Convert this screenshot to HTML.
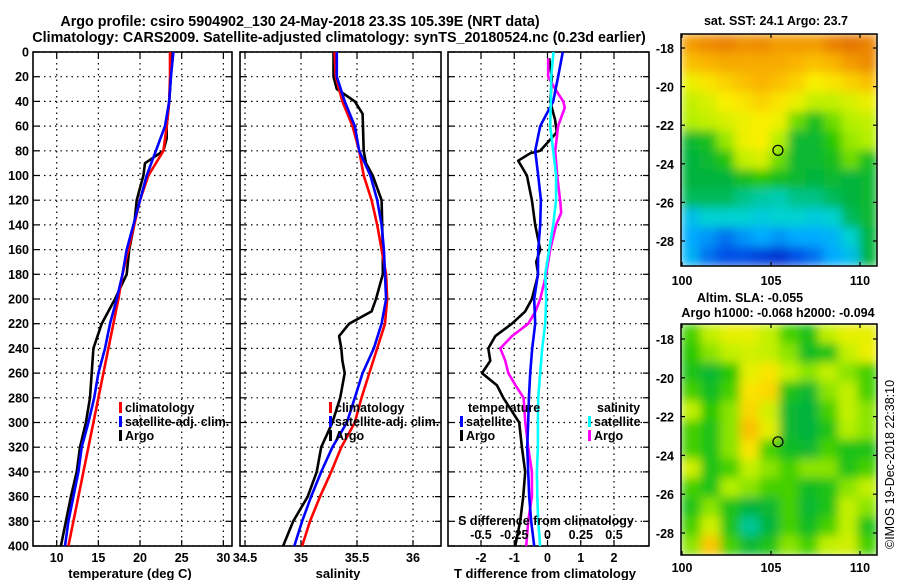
<!DOCTYPE html>
<html><head><meta charset="utf-8"><style>
html,body{margin:0;padding:0;background:#fff;}
svg text{font-family:"Liberation Sans",Arial,sans-serif;font-weight:bold;fill:#000;}
</style></head><body>
<svg id="fig" width="900" height="580" viewBox="0 0 900 580" xmlns="http://www.w3.org/2000/svg">
<defs>
<filter id="smooth" x="0" y="0" width="1" height="1" filterUnits="objectBoundingBox"><feGaussianBlur stdDeviation="5" edgeMode="duplicate"/></filter>
<clipPath id="clipTop"><rect x="681" y="34" width="196" height="232"/></clipPath>
<clipPath id="clipBot"><rect x="681" y="324" width="196" height="231"/></clipPath>
</defs>
<text x="300" y="26" font-size="14.3" text-anchor="middle">Argo profile: csiro 5904902_130 24-May-2018 23.3S 105.39E (NRT data)</text>
<text x="339" y="42" font-size="14.3" text-anchor="middle">Climatology: CARS2009. Satellite-adjusted climatology: synTS_20180524.nc (0.23d earlier)</text>
<g id="p1"></g>
<g id="p2"></g>
<g id="p3"></g>
<g id="m1"></g>
<g id="m2"></g>
<text x="776" y="25" font-size="12.5" text-anchor="middle">sat. SST: 24.1 Argo: 23.7</text>
<text x="750" y="302" font-size="12.5" text-anchor="middle">Altim. SLA: -0.055</text>
<text x="778" y="317" font-size="12.5" text-anchor="middle">Argo h1000: -0.068 h2000: -0.094</text>
<text transform="translate(894,549) rotate(-90)" font-size="12.5" style="font-weight:normal">©IMOS 19-Dec-2018 22:38:10</text>
</svg>
<script>
// ---------- data ----------
const depthGrid = [0,20,40,60,80,100,120,140,160,180,200,220,240,260,280,300,320,340,360,380,400];
const tempClim = [23.6,23.6,23.5,23.2,22.8,21.0,20.0,19.3,18.6,17.9,17.4,16.8,16.2,15.6,15.0,14.4,13.8,13.2,12.6,12.0,11.4];
const tempSat = [24.0,23.7,23.5,23.0,21.9,20.8,20.0,19.2,18.4,17.9,17.2,16.4,15.8,15.0,14.5,13.8,13.0,12.6,12.0,11.4,11.0];
const argoTDepth = [0,20,40,60,70,80,90,100,120,140,160,180,200,220,240,260,280,300,320,340,360,380,400];
const argoTemp = [23.7,23.7,23.5,23.2,23.2,22.8,20.6,20.4,19.6,19.3,18.7,18.4,17.0,15.4,14.4,14.2,14.0,13.5,12.8,12.4,11.7,11.1,10.5];
const salClim = [35.30,35.31,35.37,35.46,35.52,35.56,35.63,35.68,35.72,35.76,35.77,35.75,35.68,35.61,35.54,35.48,35.36,35.27,35.17,35.08,35.01];
const salSat = [35.32,35.32,35.39,35.48,35.52,35.62,35.68,35.72,35.74,35.75,35.76,35.72,35.65,35.55,35.48,35.41,35.28,35.18,35.09,35.01,34.94];
const argoSDepth = [0,20,30,40,50,80,90,100,120,160,180,200,210,220,230,240,250,260,280,300,320,340,360,380,400];
const argoSal = [35.29,35.29,35.32,35.48,35.55,35.56,35.58,35.64,35.72,35.73,35.73,35.67,35.63,35.43,35.34,35.36,35.37,35.39,35.35,35.28,35.18,35.14,35.06,34.93,34.84];
const satTDiff = [0.46,0.32,0.17,-0.22,-0.37,-0.28,-0.2,-0.22,-0.28,-0.29,-0.4,-0.37,-0.46,-0.52,-0.56,-0.58,-0.61,-0.58,-0.55,-0.49,-0.4];
const satSDiff = [0.045,0.028,0.025,0.02,0.043,0.065,0.065,0.043,0.013,-0.017,-0.01,-0.017,-0.04,-0.055,-0.07,-0.072,-0.072,-0.08,-0.077,-0.07,-0.055];
const argoSDiffDepth = [5,20,30,40,45,60,80,100,120,130,140,160,180,200,210,220,230,240,250,260,270,280,300,320,340,360,380,400];
const argoSDiff = [0.005,0.005,0.058,0.118,0.13,0.08,0.058,0.073,0.095,0.103,0.065,0.02,-0.01,-0.055,-0.09,-0.145,-0.267,-0.355,-0.317,-0.295,-0.24,-0.18,-0.167,-0.145,-0.117,-0.117,-0.145,-0.16];
const argoTDiffDepth = [5,20,30,40,55,65,80,82,88,100,120,140,160,170,180,200,210,220,230,240,250,260,270,280,300,320,340,360,380,400];
const argoTDiff = [0.05,0.13,0.11,0.08,0.23,0.28,-0.22,-0.52,-0.88,-0.62,-0.47,-0.37,-0.22,-0.34,-0.28,-0.47,-0.67,-1.07,-1.57,-1.78,-1.72,-1.97,-1.52,-1.33,-0.85,-0.77,-0.67,-0.73,-0.82,-0.97];
const depthTicks = [0,20,40,60,80,100,120,140,160,180,200,220,240,260,280,300,320,340,360,380,400];
const tempTicks = [10,15,20,25,30];
const salTicks = [34.5,35,35.5,36];
const salTickLabels = ["34.5","35","35.5","36"];
const tdiffTicks = [-2,-1,0,1,2];
const sdiffTicks = [-0.5,-0.25,0,0.25,0.5];
const sdiffTickLabels = ["-0.5","-0.25","0","0.25","0.5"];
const mapLonTicks = [100,105,110];
const sstLatTicks = [-18,-20,-22,-24,-26,-28];
const sstGrid = [
[0.85,0.88,0.9,0.87,0.88,0.85,0.85,0.85,0.9,0.92,0.9],
[0.78,0.8,0.82,0.82,0.82,0.82,0.8,0.78,0.8,0.85,0.88],
[0.68,0.72,0.75,0.78,0.8,0.78,0.75,0.7,0.72,0.75,0.78],
[0.62,0.65,0.7,0.72,0.75,0.72,0.68,0.62,0.62,0.65,0.68],
[0.6,0.62,0.65,0.68,0.7,0.68,0.55,0.45,0.55,0.6,0.62],
[0.42,0.45,0.58,0.68,0.7,0.6,0.42,0.42,0.5,0.58,0.6],
[0.4,0.42,0.48,0.62,0.65,0.55,0.42,0.42,0.45,0.55,0.45],
[0.4,0.4,0.4,0.45,0.5,0.45,0.42,0.4,0.42,0.4,0.42],
[0.38,0.38,0.38,0.35,0.33,0.32,0.35,0.35,0.38,0.4,0.42],
[0.25,0.3,0.3,0.3,0.28,0.3,0.3,0.28,0.3,0.38,0.42],
[0.2,0.18,0.15,0.18,0.2,0.18,0.2,0.2,0.22,0.3,0.4],
[0.22,0.15,0.12,0.12,0.1,0.08,0.12,0.15,0.2,0.25,0.4]];
const slaGrid = [
[0.52,0.62,0.67,0.67,0.62,0.52,0.47,0.62,0.67,0.67],
[0.5,0.57,0.62,0.64,0.62,0.57,0.44,0.47,0.62,0.68],
[0.47,0.42,0.5,0.67,0.72,0.62,0.57,0.62,0.57,0.52],
[0.52,0.44,0.52,0.72,0.74,0.47,0.42,0.57,0.62,0.52],
[0.62,0.5,0.57,0.74,0.64,0.42,0.4,0.52,0.62,0.57],
[0.52,0.47,0.57,0.78,0.67,0.42,0.4,0.47,0.6,0.57],
[0.52,0.47,0.57,0.72,0.52,0.44,0.42,0.52,0.47,0.47],
[0.64,0.47,0.52,0.62,0.57,0.52,0.57,0.57,0.47,0.52],
[0.52,0.47,0.6,0.57,0.52,0.52,0.44,0.47,0.57,0.62],
[0.47,0.57,0.47,0.4,0.42,0.52,0.42,0.47,0.62,0.57],
[0.52,0.64,0.47,0.34,0.4,0.52,0.44,0.52,0.62,0.47],
[0.57,0.77,0.52,0.42,0.47,0.57,0.52,0.62,0.64,0.52]];
const argoLon = 105.39, argoLat = -23.3;

// ---------- helpers ----------
const NS="http://www.w3.org/2000/svg";
function mk(tag,attrs,parent){const e=document.createElementNS(NS,tag);for(const k in attrs)e.setAttribute(k,attrs[k]);if(parent)parent.appendChild(e);return e;}
const TOP=52, BOT=546;
const yD = d => TOP + d*(BOT-TOP)/400;
function lin(d0,d1,r0,r1){return v=>r0+(v-d0)*(r1-r0)/(d1-d0);}

function panel(g,x0,x1,xs,ticks,labels,showY){
  depthTicks.forEach(d=>{
    const l=mk('line',{x1:x0,x2:x1,y1:yD(d),y2:yD(d),stroke:'#000','stroke-width':1.2,'stroke-dasharray':'1.5,4'},g);
    
    
    mk('line',{x1:x0,x2:x0+6,y1:yD(d),y2:yD(d),stroke:'#000','stroke-width':1.2},g);
    mk('line',{x1:x1-6,x2:x1,y1:yD(d),y2:yD(d),stroke:'#000','stroke-width':1.2},g);
    if(showY){const t=mk('text',{x:x0-4,y:yD(d)+4.5,'font-size':12.5,'text-anchor':'end'},g);t.textContent=d;
      
      }
  });
  ticks.forEach((v,i)=>{
    const x=xs(v);
    if(x>x0+2&&x<x1-2){const l=mk('line',{x1:x,x2:x,y1:TOP,y2:BOT,stroke:'#000','stroke-width':1.2,'stroke-dasharray':'1.5,4'},g);
      
      }
    mk('line',{x1:x,x2:x,y1:BOT-6,y2:BOT,stroke:'#000','stroke-width':1.2},g);
    mk('line',{x1:x,x2:x,y1:TOP,y2:TOP+6,stroke:'#000','stroke-width':1.2},g);
    const t=mk('text',{x:x,y:562,'font-size':12.5,'text-anchor':'middle'},g);t.textContent=labels[i];
    
    
  });
  const f=mk('rect',{x:x0,y:TOP,width:x1-x0,height:BOT-TOP,fill:'none',stroke:'#000','stroke-width':1.6},g);
  
  
}
function curve(g,xs,vals,depths,color,name){
  const pts=vals.map((v,i)=>xs(v).toFixed(1)+','+yD(depths[i]).toFixed(1)).join(' ');
  const p=mk('polyline',{points:pts,fill:'none',stroke:color,'stroke-width':2.6,'stroke-linejoin':'round'},g);
  
  
}
function legend(g,x,y,color,label,name){
  mk('rect',{x:x,y:y-10,width:3,height:11,fill:color},g);
  const t=mk('text',{x:x+6,y:y,'font-size':12.5},g);t.textContent=label;
  
  
}
function text(g,x,y,s,anchor,name,size){const t=mk('text',{x:x,y:y,'font-size':size||13,'text-anchor':anchor},g);t.textContent=s;
  
  
  return t;}

// ---------- panel 1 ----------
const g1=document.getElementById('p1');
const xT=lin(10,25,56.7,181.7);
panel(g1,33,232,xT,tempTicks,tempTicks.map(String),true);
curve(g1,xT,argoTemp,argoTDepth,'#000','argo-temperature-line');
curve(g1,xT,tempClim,depthGrid,'#ff0000','climatology-temperature-line');
curve(g1,xT,tempSat,depthGrid,'#0000ff','satellite-temperature-line');
legend(g1,119,412,'#ff0000','climatology','legend-climatology');
legend(g1,119,426,'#0000ff','satellite-adj. clim.','legend-satellite-adj');
legend(g1,119,440,'#000','Argo','legend-argo');
text(g1,130,578,'temperature (deg C)','middle','x-axis-title-temperature');

// ---------- panel 2 ----------
const g2=document.getElementById('p2');
const xS=lin(34.5,36,245,413);
panel(g2,240,441,xS,salTicks,salTickLabels,false);
curve(g2,xS,argoSal,argoSDepth,'#000','argo-salinity-line');
curve(g2,xS,salClim,depthGrid,'#ff0000','climatology-salinity-line');
curve(g2,xS,salSat,depthGrid,'#0000ff','satellite-salinity-line');
legend(g2,329,412,'#ff0000','climatology','legend-climatology');
legend(g2,329,426,'#0000ff','satellite-adj. clim.','legend-satellite-adj');
legend(g2,329,440,'#000','Argo','legend-argo');
text(g2,338,578,'salinity','middle','x-axis-title-salinity');

// ---------- panel 3 ----------
const g3=document.getElementById('p3');
const xTD=lin(-2,2,481,614);
const xSD=lin(-0.5,0.5,481,614);
panel(g3,448,649,xTD,tdiffTicks,tdiffTicks.map(String),false);
curve(g3,xTD,argoTDiff,argoTDiffDepth,'#000','argo-temperature-diff-line');
curve(g3,xSD,argoSDiff,argoSDiffDepth,'#ff00ff','argo-salinity-diff-line');
curve(g3,xTD,satTDiff,depthGrid,'#0000ff','satellite-temperature-diff-line');
curve(g3,xSD,satSDiff,depthGrid,'#00ffff','satellite-salinity-diff-line');
text(g3,468,412,'temperature','start','legend-temperature-heading',12.5);
text(g3,597,412,'salinity','start','legend-salinity-heading',12.5);
legend(g3,460,426,'#0000ff','satellite','legend-temp-satellite');
legend(g3,460,440,'#000','Argo','legend-temp-argo');
legend(g3,588,426,'#00ffff','satellite','legend-sal-satellite');
legend(g3,588,440,'#ff00ff','Argo','legend-sal-argo');
text(g3,546,525,'S difference from climatology','middle','s-diff-axis-title',12.5);
sdiffTicks.forEach((v,i)=>{text(g3,xSD(v),539,sdiffTickLabels[i],'middle','s-diff-tick-label',12.5);});
text(g3,545,578,'T difference from climatology','middle','x-axis-title-t-diff');

// ---------- maps ----------
const stops=[[0,0,0,170],[0.12,0,80,230],[0.2,0,170,255],[0.3,0,210,210],[0.4,0,180,60],[0.5,40,200,0],[0.6,180,240,0],[0.7,250,240,0],[0.8,250,180,0],[0.9,235,130,0],[1,200,70,0]];
function cmap(v){for(let i=1;i<stops.length;i++){if(v<=stops[i][0]){const a=stops[i-1],b=stops[i],t=(v-a[0])/(b[0]-a[0]);
  return 'rgb('+[1,2,3].map(k=>Math.round(a[k]+t*(b[k]-a[k]))).join(',')+')';}}return 'rgb(200,70,0)';}
function mapPanel(g,grid,x0,y0,w,h,clip,latTicks,latY,lonX,cell,xlabY){
  const inner=mk('g',{'clip-path':'url(#'+clip+')'},g);
  const blur=mk('g',{filter:'url(#smooth)'},inner);
  const rows=grid.length, cols=grid[0].length, cw=w/cols, ch=h/rows;
  grid.forEach((row,r)=>row.forEach((v,c)=>{
    const rc=mk('rect',{x:x0+c*cw,y:y0+r*ch,width:cw+0.6,height:ch+0.6,fill:cmap(v)},blur);
    
    
  }));
  mk('rect',{x:x0,y:y0,width:w,height:h,fill:'none',stroke:'#000','stroke-width':1.5},g);
  latTicks.forEach(l=>{const y=latY(l);
    mk('line',{x1:x0,x2:x0+4,y1:y,y2:y,stroke:'#000','stroke-width':1.2},g);
    mk('line',{x1:x0+w-4,x2:x0+w,y1:y,y2:y,stroke:'#000','stroke-width':1.2},g);
    text(g,x0-7,y+5,String(l),'end','lat-tick-label',12.5);});
  mapLonTicks.forEach(l=>{const x=lonX(l);
    mk('line',{x1:x,x2:x,y1:y0,y2:y0+4,stroke:'#000','stroke-width':1.2},g);
    mk('line',{x1:x,x2:x,y1:y0+h-4,y2:y0+h,stroke:'#000','stroke-width':1.2},g);
    text(g,x,xlabY,String(l),'middle','lon-tick-label',12.5);});
  const m=mk('circle',{cx:lonX(argoLon),cy:latY(argoLat),r:5,fill:'none',stroke:'#000','stroke-width':1.2},g);
  
  
}
const lonX=lin(100,110,682,860);
mapPanel(document.getElementById('m1'),sstGrid,681,34,196,232,'clipTop',sstLatTicks,lin(-18,-28,48,241),lonX,'sst-cell',285);
mapPanel(document.getElementById('m2'),slaGrid,681,324,196,231,'clipBot',sstLatTicks,lin(-18,-28,339,533),lonX,'sla-cell',572);
</script>
</body></html>
